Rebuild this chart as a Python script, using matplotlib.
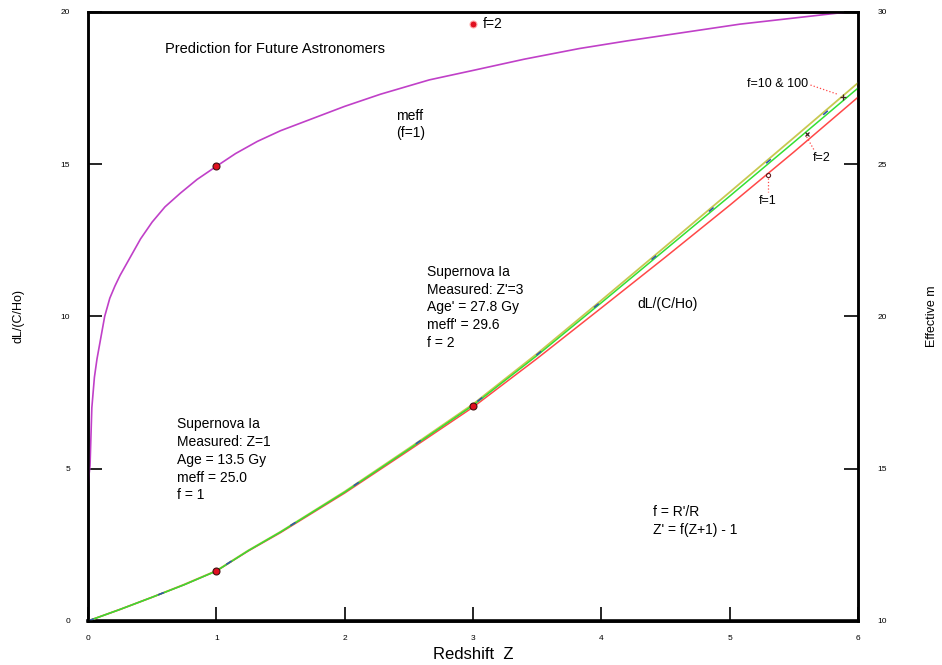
import numpy as np
import matplotlib
matplotlib.use('Agg')
import matplotlib.pyplot as plt

plt.rcParams['font.family'] = ['Liberation Sans', 'DejaVu Sans']

# redshift grid for the luminosity distance curves
z_dl = [0, 0.25, 0.5, 0.75, 1.0, 1.25, 1.5, 2.0, 2.5, 3.0, 3.5, 4.0, 4.5, 5.0, 5.5, 6.0]
dl_f1 = [0, 0.38, 0.78, 1.19, 1.64, 2.30, 2.90, 4.20, 5.60, 7.02, 8.62, 10.28, 11.95, 13.65, 15.40, 17.20]
dl_f2 = [0, 0.38, 0.78, 1.19, 1.64, 2.31, 2.92, 4.23, 5.64, 7.08, 8.72, 10.45, 12.20, 13.95, 15.72, 17.50]
dl_f10 = [0, 0.38, 0.78, 1.20, 1.65, 2.32, 2.93, 4.25, 5.67, 7.12, 8.78, 10.53, 12.30, 14.08, 15.87, 17.67]
dl_f100 = [0, 0.38, 0.78, 1.20, 1.65, 2.32, 2.93, 4.24, 5.66, 7.10, 8.75, 10.49, 12.25, 14.02, 15.80, 17.60]

# effective magnitude (right axis), f=1
z_m = [0.0, 0.008, 0.016, 0.03, 0.05, 0.07, 0.1, 0.13, 0.17, 0.21, 0.25, 0.33, 0.41, 0.5,
       0.6, 0.72, 0.85, 1.0, 1.15, 1.32, 1.5, 1.75, 2.0, 2.28, 2.66, 3.0, 3.4, 3.83, 4.2,
       4.6, 5.08, 5.5, 5.92, 6.0]
m_eff = [14.3, 14.8, 15.1, 17.0, 18.0, 18.6, 19.3, 20.0, 20.6, 21.0, 21.35, 21.95, 22.55, 23.1,
         23.6, 24.05, 24.5, 24.93, 25.35, 25.75, 26.1, 26.5, 26.9, 27.3, 27.77, 28.08, 28.45, 28.8, 29.05,
         29.3, 29.6, 29.8, 30.0, 30.0]

# measured points
pt_z = [1, 3]
pt_dl = [1.64, 7.06]
pt_m = [24.93, 29.6]

fig = plt.figure(figsize=(9.42, 6.65), dpi=100)
ax = fig.add_axes([0.0934, 0.0662, 0.8174, 0.9158])
ax2 = ax.twinx()

ax.plot(z_dl, dl_f10, color='#c8c850', lw=1.3, zorder=3)
ax.plot(z_dl, dl_f2, color='#33e033', lw=1.1, zorder=4)
ax.plot(z_dl, dl_f1, color='#ff4848', lw=1.1, zorder=3)
ax.plot(z_dl, dl_f100, color='#3050b0', lw=1.1, ls=(0, (4, 45)), zorder=5)
ax.plot(pt_z, pt_dl, 'o', ms=5, mfc='#e01020', mec='#401010', mew=0.8, zorder=6)

ax2.plot(z_m, m_eff, color='#c040c8', lw=1.2)
ax2.plot([pt_z[0]], [pt_m[0]], 'o', ms=5, mfc='#e01020', mec='#401010', mew=0.8)
ax2.plot([pt_z[1]], [pt_m[1]], 'o', ms=5, mfc='#e01020', mec='#ffaaaa', mew=0.8)

# markers at the f labels
ax.plot([5.3], [14.65], 'o', ms=3, mfc='none', mec='#602020', mew=0.8, zorder=7)
ax.plot([5.6], [16.0], 'x', ms=3.5, color='#402020', mew=0.9, zorder=7)
ax.plot([5.88], [17.2], '+', ms=4, color='#402020', mew=0.9, zorder=7)
ax.plot([5.3, 5.3], [14.55, 14.1], color='#ff4848', ls=':', lw=0.9)
ax.plot([5.6, 5.66], [15.9, 15.45], color='#ff4848', ls=':', lw=0.9)
ax.plot([5.63, 5.84], [17.6, 17.3], color='#ff4848', ls=':', lw=0.9)

ax.set_xlim(0, 6)
ax.set_ylim(0, 20)
ax2.set_ylim(10, 30)
ax.set_xticks([0, 1, 2, 3, 4, 5, 6])
ax.set_yticks([0, 5, 10, 15, 20])
ax2.set_yticks([10, 15, 20, 25, 30])

ax.tick_params(axis='both', direction='in', length=10, width=1.2, labelsize=6, pad=13)
ax.tick_params(axis='x', pad=10)
ax2.tick_params(axis='y', direction='in', length=10, width=1.2, labelsize=6, pad=14)
for a in (ax, ax2):
    for s in a.spines.values():
        s.set_linewidth(1.8)
ax.spines['bottom'].set_linewidth(2.6)

ax.set_xlabel('Redshift  Z', fontsize=12, labelpad=4)
ax.set_ylabel('dL/(C/Ho)', fontsize=9)
ax.yaxis.set_label_coords(-0.082, 0.5)
ax2.set_ylabel('Effective m', fontsize=9, rotation=90)
ax2.yaxis.set_label_coords(1.088, 0.5)

fs = 10
ax.text(0.6, 18.8, 'Prediction for Future Astronomers', fontsize=10.5, va='center')
ax.text(3.08, 19.6, 'f=2', fontsize=fs, va='center')
ax.text(2.4, 16.3, 'meff\n(f=1)', fontsize=fs, va='center', linespacing=1.3)
ax.text(2.64, 11.7, "Supernova Ia\nMeasured: Z'=3\nAge' = 27.8 Gy\nmeff' = 29.6\nf = 2",
        fontsize=fs, va='top', linespacing=1.35)
ax.text(4.28, 10.4, 'dL/(C/Ho)', fontsize=fs, va='center')
ax.text(0.69, 6.7, "Supernova Ia\nMeasured: Z=1\nAge = 13.5 Gy\nmeff = 25.0\nf = 1",
        fontsize=fs, va='top', linespacing=1.35)
ax.text(4.4, 3.8, "f = R'/R\nZ' = f(Z+1) - 1", fontsize=fs, va='top', linespacing=1.35)
ax.text(5.3, 13.8, 'f=1', fontsize=fs - 1, ha='center', va='center')
ax.text(5.72, 15.2, 'f=2', fontsize=fs - 1, ha='center', va='center')
ax.text(5.61, 17.65, 'f=10 & 100', fontsize=fs - 1, ha='right', va='center')

fig.savefig('out.png', dpi=100)
